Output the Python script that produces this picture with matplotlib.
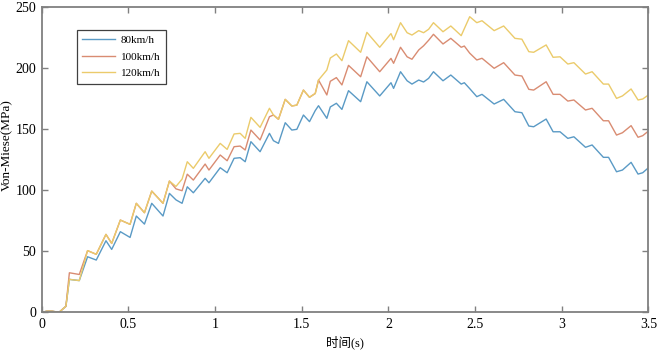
import numpy as np
from matplotlib import pyplot as plt

# time points (s)
t = [0, 0.03, 0.06, 0.1, 0.14, 0.16, 0.217, 0.265, 0.315, 0.371, 0.404, 0.454,
     0.51, 0.546, 0.593, 0.635, 0.70, 0.737, 0.775, 0.81, 0.84, 0.875, 0.943,
     0.965, 1.03, 1.07, 1.11, 1.145, 1.174, 1.207, 1.26, 1.314, 1.337, 1.366,
     1.405, 1.443, 1.472, 1.51, 1.545, 1.578, 1.597, 1.645, 1.665, 1.70, 1.732,
     1.77, 1.84, 1.876, 1.95, 2.015, 2.03, 2.07, 2.108, 2.136, 2.175, 2.203,
     2.232, 2.26, 2.315, 2.36, 2.42, 2.438, 2.469, 2.51, 2.54, 2.61, 2.665,
     2.73, 2.77, 2.81, 2.838, 2.91, 2.95, 2.99, 3.035, 3.07, 3.137, 3.175,
     3.24, 3.27, 3.316, 3.35, 3.40, 3.44, 3.467, 3.5]

v80 = [0, 1, 1, 0, 5, 27, 26, 45.5, 42.8, 58.6, 51.5, 66,
       61.3, 78.8, 72.2, 89.2, 78.8, 97.3, 92, 89.2, 102.7, 97.8, 109.6,
       106, 118.3, 114.2, 126, 126.5, 123.2, 139.6, 131.4, 146.4, 140.4, 138.2,
       155.1, 149.1, 149.7, 161.4, 156, 165, 169, 158.7, 168, 171, 166,
       181.3, 172.3, 188.6, 177, 187.8, 183.2, 196.8, 189.4, 186.7, 190, 188.4,
       191.4, 196.8, 189.4, 194.1, 186.7, 187.8, 183, 176.4, 178.3, 170.4, 174.2,
       164.1, 163.3, 152.4, 151.8, 158.1, 147.7, 147.7, 142.3, 143.6, 135, 136.9,
       126.8, 126.8, 115, 116.4, 122.7, 113.1, 114.2, 118.3]

v100 = [0, 1, 1, 0, 5, 32.4, 31, 50.5, 47.5, 63.8, 56.4, 75.5,
        72, 89.2, 81.5, 99.2, 89.2, 107.4, 101, 99.5, 113, 108.2, 121.3,
        116.4, 128.7, 124, 135.5, 136, 132.8, 149.1, 141, 160, 161.4, 157.9,
        174.2, 168.8, 169.5, 181.8, 175.9, 179, 190, 177.8, 189, 192, 186,
        202, 192.7, 209, 196.8, 207.7, 203.7, 216.8, 209, 207, 214.6, 218,
        222.5, 227.4, 219.5, 224.1, 216.8, 217.8, 212, 206.4, 207.8, 199.6, 204.2,
        194.1, 193.3, 182.4, 181.8, 188.6, 178.3, 178.3, 172.8, 173.7, 165.5, 166.9,
        156.7, 156.7, 145, 146.9, 152.7, 143.2, 144.5, 148.3]

v120 = [0, 1, 1, 0, 5, 27, 26, 50.5, 47.5, 63.8, 56.4, 75.5,
        72, 89.2, 81.5, 99.2, 89.2, 107.4, 103, 109, 123.2, 117.8, 131.4,
        126, 138.2, 133.3, 145.9, 146.4, 142.3, 159.5, 151.3, 166.9, 161.4, 157.9,
        174.2, 168.8, 169.5, 181.8, 175.9, 179, 190, 198.2, 208, 211.3, 205.8,
        222.2, 212.7, 229, 216.8, 228, 223, 236.9, 228.7, 226.8, 230.4, 228.7,
        231.5, 236.9, 229.5, 234.2, 226.3, 232, 241.8, 236.9, 238.5, 230.4, 234.2,
        224.1, 223.4, 213.2, 212.7, 218.7, 208.6, 209, 203.1, 204.2, 194.9, 196.8,
        186.7, 186.7, 175, 177, 182.7, 173.7, 174.5, 177.8]

labels = ["80km/h", "100km/h", "120km/h"]
colors = ["#5A9AC5", "#D98C72", "#EBCB6B"]

plt.rcParams["font.family"] = ["Liberation Serif", "Noto Sans CJK SC"]

fig = plt.figure(figsize=(6.61, 3.51), dpi=100)
ax = fig.add_axes([0.063, 0.110, 0.918, 0.871])

for vals, lab, c in zip([v80, v100, v120], labels, colors):
    ax.plot(t, vals, color=c, linewidth=1.0, label=lab)

ax.set_xlim(0, 3.5)
ax.set_ylim(0, 250)
ax.set_xticks(np.arange(0, 3.51, 0.5))
ax.set_xticklabels(["0", "0.5", "1", "1.5", "2", "2.5", "3", "3.5"])
ax.set_yticks(np.arange(0, 251, 50))

for s in ax.spines.values():
    s.set_color("#808080")
    s.set_linewidth(1.3)
ax.tick_params(direction="in", length=4, width=1, color="#808080",
               top=True, right=True, labelsize=10, pad=4)

ax.set_xlabel("时间(s)", fontsize=9, labelpad=3)
ax.set_ylabel("Von-Miese(MPa)", fontsize=9.5)
ax.yaxis.set_label_coords(-0.047, 0.547)

leg = ax.legend(loc="upper left", bbox_to_anchor=(0.058, 0.924), fontsize=8,
                handlelength=2.9, handletextpad=0.55, borderpad=0.5,
                borderaxespad=0, labelspacing=0.6, fancybox=False, framealpha=1)
leg.get_frame().set_edgecolor("#404040")
leg.get_frame().set_linewidth(0.9)

fig.savefig("out.png", dpi=100)
